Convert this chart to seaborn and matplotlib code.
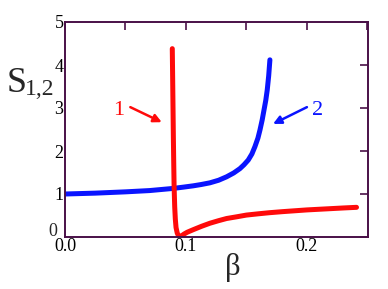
import matplotlib
matplotlib.use("Agg")
import matplotlib.pyplot as plt
import pandas as pd
import seaborn as sns
from matplotlib.ticker import MultipleLocator

# curve 1 (red)
BETA_1 = [0.0887, 0.0890, 0.0893, 0.0896, 0.0899, 0.0902, 0.0907, 0.0912, 0.0918,
          0.0928, 0.0940, 0.0950, 0.0965, 0.0985, 0.1010, 0.1060, 0.1130, 0.1198,
          0.1270, 0.1336, 0.1420, 0.1500, 0.1600, 0.1690, 0.1800, 0.1900, 0.2000,
          0.2100, 0.2200, 0.2300, 0.2410]
S_1 = [4.38, 3.70, 3.00, 2.30, 1.70, 1.17, 0.70, 0.42, 0.22,
       0.09, 0.02, 0.00, 0.03, 0.07, 0.11, 0.17, 0.25, 0.32,
       0.38, 0.43, 0.47, 0.51, 0.54, 0.565, 0.59, 0.61, 0.63,
       0.645, 0.66, 0.675, 0.69]

# curve 2 (blue)
BETA_2 = [0.0, 0.025, 0.05, 0.07, 0.0895, 0.098, 0.106, 0.1125, 0.1198, 0.127,
          0.1336, 0.1395, 0.1446, 0.148, 0.1515, 0.1545, 0.157, 0.1595, 0.1612,
          0.1630, 0.1645, 0.1660, 0.1672, 0.1684, 0.1694]
S_2 = [1.0, 1.02, 1.05, 1.08, 1.13, 1.16, 1.19, 1.22, 1.26, 1.32,
       1.40, 1.49, 1.59, 1.68, 1.79, 1.93, 2.10, 2.30, 2.49,
       2.72, 2.95, 3.18, 3.42, 3.75, 4.12]

X_TICKS = [0.0, 0.1, 0.2]
X_LABELS = ["0.0", "0.1", "0.2"]
Y_TICKS = [0, 1, 2, 3, 4, 5]

FRAME = "#4a1048"
RED = "#ff0a0a"
BLUE = "#0a14ff"

sns.set_theme(style="white")
plt.rcParams["font.family"] = ["Liberation Serif", "DejaVu Serif"]

df1 = pd.DataFrame({"beta": BETA_1, "S": S_1})
df2 = pd.DataFrame({"beta": BETA_2, "S": S_2})

fig = plt.figure(figsize=(3.88, 2.89), dpi=100)
ax = fig.add_axes([65 / 388, 1 - 237 / 289, 303 / 388, 215 / 289])

sns.lineplot(data=df2, x="beta", y="S", color=BLUE, lw=3.6, sort=False,
             estimator=None, ax=ax, solid_capstyle="round", solid_joinstyle="round")
sns.lineplot(data=df1, x="beta", y="S", color=RED, lw=3.6, sort=False,
             estimator=None, ax=ax, solid_capstyle="round", solid_joinstyle="round")

ax.set_xlim(0, 0.2505)
ax.set_ylim(0, 5)
ax.xaxis.set_minor_locator(MultipleLocator(0.05))
ax.set_xticks(X_TICKS, X_LABELS)
# the "0" of the y axis is drawn by hand a little higher, above the "0.0"
ax.set_yticks(Y_TICKS, [""] + [str(v) for v in Y_TICKS[1:]])
ax.tick_params(which="both", direction="in", top=True, right=True,
               color=FRAME, width=1.2, labelsize=13, labelcolor="black", pad=1,
               length=6)
for sp in ax.spines.values():
    sp.set_color(FRAME)
    sp.set_linewidth(1.4)
fig.text(53 / 388, 1 - 231 / 289, str(Y_TICKS[0]), fontsize=13, ha="center", va="center")

ax.set_xlabel("")
ax.set_ylabel("")
fig.text(233 / 388, 1 - 268 / 289, "β", fontsize=22, ha="center", va="center")
fig.text(17 / 388, 1 - 84 / 289, "S", fontsize=26, ha="center", va="center")
fig.text(40 / 388, 1 - 89 / 289, "1,2", fontsize=17, ha="center", va="center")

ax.annotate("", xy=(0.080, 2.67), xytext=(0.054, 3.02),
            arrowprops=dict(arrowstyle="-|>", color=RED, lw=1.8,
                            mutation_scale=12, shrinkA=0, shrinkB=0))
ax.text(0.044, 2.95, "1", color=RED, fontsize=16, ha="center", va="center")
ax.annotate("", xy=(0.172, 2.63), xytext=(0.200, 3.02),
            arrowprops=dict(arrowstyle="-|>", color=BLUE, lw=1.8,
                            mutation_scale=12, shrinkA=0, shrinkB=0))
ax.text(0.2085, 2.95, "2", color=BLUE, fontsize=16, ha="center", va="center")

fig.savefig("out.png", dpi=100)
